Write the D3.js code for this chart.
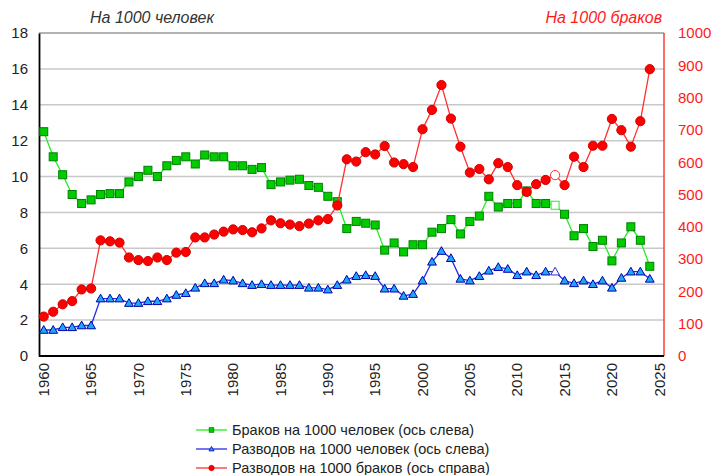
<!DOCTYPE html>
<html>
<head>
<meta charset="utf-8">
<script src="https://cdn.jsdelivr.net/npm/d3@7/dist/d3.min.js"></script>
<style>
  html, body { margin: 0; padding: 0; background: #fff; }
  svg { display: block; font-family: "Liberation Sans", Arial, sans-serif; }
</style>
</head>
<body>
<svg id="chart" width="714" height="475"></svg>
<script>
// ---- data ----
const years = d3.range(1960, 2025); // 1960..2024
const categories = d3.range(1960, 2026); // axis categories 1960..2025
const marriagesPer1000 = [12.5,11.1,10.1,9.0,8.5,8.7,9.0,9.05,9.05,9.7,
  10.0,10.35,10.0,10.6,10.9,11.1,10.7,11.2,11.1,11.1,
  10.6,10.6,10.4,10.5,9.55,9.7,9.8,9.85,9.5,9.4,
  8.9,8.6,7.1,7.5,7.4,7.3,5.9,6.3,5.8,6.2,
  6.2,6.9,7.1,7.6,6.8,7.5,7.8,8.9,8.3,8.5,
  8.5,9.2,8.5,8.5,8.4,7.9,6.7,7.1,6.1,6.45,
  5.3,6.3,7.2,6.45,5.0];
const divorcesPer1000 = [1.45,1.45,1.6,1.6,1.7,1.7,3.2,3.2,3.2,2.95,
  2.95,3.05,3.05,3.2,3.4,3.5,3.8,4.05,4.05,4.25,
  4.2,4.05,3.95,4.0,3.95,3.95,3.95,3.95,3.8,3.8,
  3.7,3.95,4.25,4.45,4.5,4.45,3.75,3.75,3.35,3.45,
  4.2,5.25,5.85,5.45,4.3,4.2,4.45,4.75,4.95,4.85,
  4.5,4.7,4.5,4.7,4.7,4.2,4.05,4.2,4.0,4.2,
  3.8,4.35,4.7,4.7,4.3];
const divorcesPer1000Marriages = [122,137,160,170,206,209,358,355,351,305,
  297,294,305,297,320,322,367,367,376,385,
  392,390,383,395,420,411,407,402,410,420,
  424,466,609,602,631,624,650,599,594,585,
  702,762,839,735,648,568,579,547,597,585,
  529,508,532,545,560,529,617,585,651,651,
  734,699,648,727,888];
const hollowYears = [2014];
const leftTicks = [0,2,4,6,8,10,12,14,16,18];
const rightTicks = [0,100,200,300,400,500,600,700,800,900,1000];
const xTickYears = [1960,1965,1970,1975,1980,1985,1990,1995,2000,2005,2010,2015,2020,2025];
const leftTitle = "На 1000 человек";
const rightTitle = "На 1000 браков";
const legendLabels = [
  "Браков на 1000 человек (ось слева)",
  "Разводов на 1000 человек (ось слева)",
  "Разводов на 1000 браков (ось справа)"
];

// ---- layout ----
const svg = d3.select("#chart");
const L = 39, R = 664, T = 33, B = 356;

const x = d3.scaleBand().domain(categories).range([L, R]).padding(0);
const cx = yr => x(yr) + x.bandwidth() / 2;
const yL = d3.scaleLinear().domain([0, 18]).range([B, T]);
const yR = d3.scaleLinear().domain([0, 1000]).range([B, T]);

// gridlines
svg.append("g").selectAll("line").data(leftTicks.filter(d => d > 0 && d < 18)).join("line")
  .attr("x1", L).attr("x2", R)
  .attr("y1", d => yL(d)).attr("y2", d => yL(d))
  .attr("stroke", "#c8c8c8").attr("stroke-width", 1.5);

// frame
svg.append("line").attr("x1", L).attr("x2", R).attr("y1", T).attr("y2", T)
  .attr("stroke", "#999").attr("stroke-width", 1.5);
svg.append("line").attr("x1", R).attr("x2", R).attr("y1", T).attr("y2", B)
  .attr("stroke", "#ff3b3b").attr("stroke-width", 1.5);

// axes
const axL = svg.append("g").attr("transform", `translate(${L},0)`)
  .call(d3.axisLeft(yL).tickValues(leftTicks).tickSize(0).tickPadding(11).tickFormat(d3.format("d")));
axL.select(".domain").attr("stroke", "#000").attr("stroke-width", 1.8);
axL.selectAll("text").attr("font-size", 15).attr("fill", "#222").attr("font-family", "Liberation Sans, Arial");

const axR = svg.append("g").attr("transform", `translate(${R},0)`)
  .call(d3.axisRight(yR).tickValues(rightTicks).tickSize(0).tickPadding(14).tickFormat(d3.format("d")));
axR.select(".domain").remove();
axR.selectAll("text").attr("font-size", 15).attr("fill", "#ff1a1a").attr("font-family", "Liberation Sans, Arial");

const axB = svg.append("g").attr("transform", `translate(0,${B})`)
  .call(d3.axisBottom(x).tickValues(xTickYears).tickSize(0).tickFormat(d3.format("d")));
axB.select(".domain").attr("stroke", "#000").attr("stroke-width", 2).attr("d", `M${L},0H${R}`);
axB.selectAll("text")
  .attr("font-size", 15).attr("fill", "#222").attr("font-family", "Liberation Sans, Arial")
  .attr("text-anchor", "end").attr("dy", "0.35em")
  .attr("transform", "translate(0,7) rotate(-90)")
  .attr("x", 0).attr("y", 0);

// titles
svg.append("text").attr("x", 90).attr("y", 22.5).text(leftTitle)
  .attr("font-size", 16).attr("font-style", "italic").attr("fill", "#333");
svg.append("text").attr("x", 662).attr("y", 22.5).text(rightTitle)
  .attr("text-anchor", "end")
  .attr("font-size", 16).attr("font-style", "italic").attr("fill", "#ff1a1a");

// series
const series = [
  { vals: marriagesPer1000, y: yL, line: "#22ee22", fill: "#00cc00", stroke: "#008000", shape: "square" },
  { vals: divorcesPer1000, y: yL, line: "#2a2ae6", fill: "#1ea8f0", stroke: "#0000b0", shape: "triangle" },
  { vals: divorcesPer1000Marriages, y: yR, line: "#ff3030", fill: "#ff0000", stroke: "#d00000", shape: "circle" }
];

function drawMarker(g, shape, size) {
  if (shape === "square") {
    g.append("rect").attr("x", -size).attr("y", -size).attr("width", 2 * size).attr("height", 2 * size);
  } else if (shape === "triangle") {
    const s = size * 1.1;
    g.append("path").attr("d", `M0,${-s}L${s},${s * 0.75}L${-s},${s * 0.75}Z`);
  } else {
    g.append("circle").attr("r", size * 1.15);
  }
}

series.forEach(s => {
  const pts = years.map((yr, i) => ({ yr, v: s.vals[i] }));
  svg.append("path").datum(pts)
    .attr("fill", "none").attr("stroke", s.line).attr("stroke-width", 1.3)
    .attr("d", d3.line().x(d => cx(d.yr)).y(d => s.y(d.v)));
  const mg = svg.append("g");
  pts.forEach(d => {
    const g = mg.append("g").attr("transform", `translate(${cx(d.yr)},${s.y(d.v)})`);
    drawMarker(g, s.shape, 4);
    const hollow = hollowYears.includes(d.yr);
    g.selectAll("*")
      .attr("fill", hollow ? "#fff" : s.fill)
      .attr("stroke", hollow ? s.line : s.stroke)
      .attr("stroke-width", 1);
  });
});

// legend
const lg = svg.append("g");
series.forEach((s, i) => {
  const yy = 430 + i * 19;
  lg.append("line").attr("x1", 196).attr("x2", 227).attr("y1", yy).attr("y2", yy)
    .attr("stroke", s.line).attr("stroke-width", 1.3);
  const g = lg.append("g").attr("transform", `translate(211.5,${yy})`);
  drawMarker(g, s.shape, 2.3);
  g.selectAll("*").attr("fill", s.fill).attr("stroke", s.stroke).attr("stroke-width", 0.8);
  lg.append("text").attr("x", 232).attr("y", yy + 5).text(legendLabels[i])
    .attr("font-size", 14.5).attr("fill", "#222");
});
</script>
</body>
</html>
